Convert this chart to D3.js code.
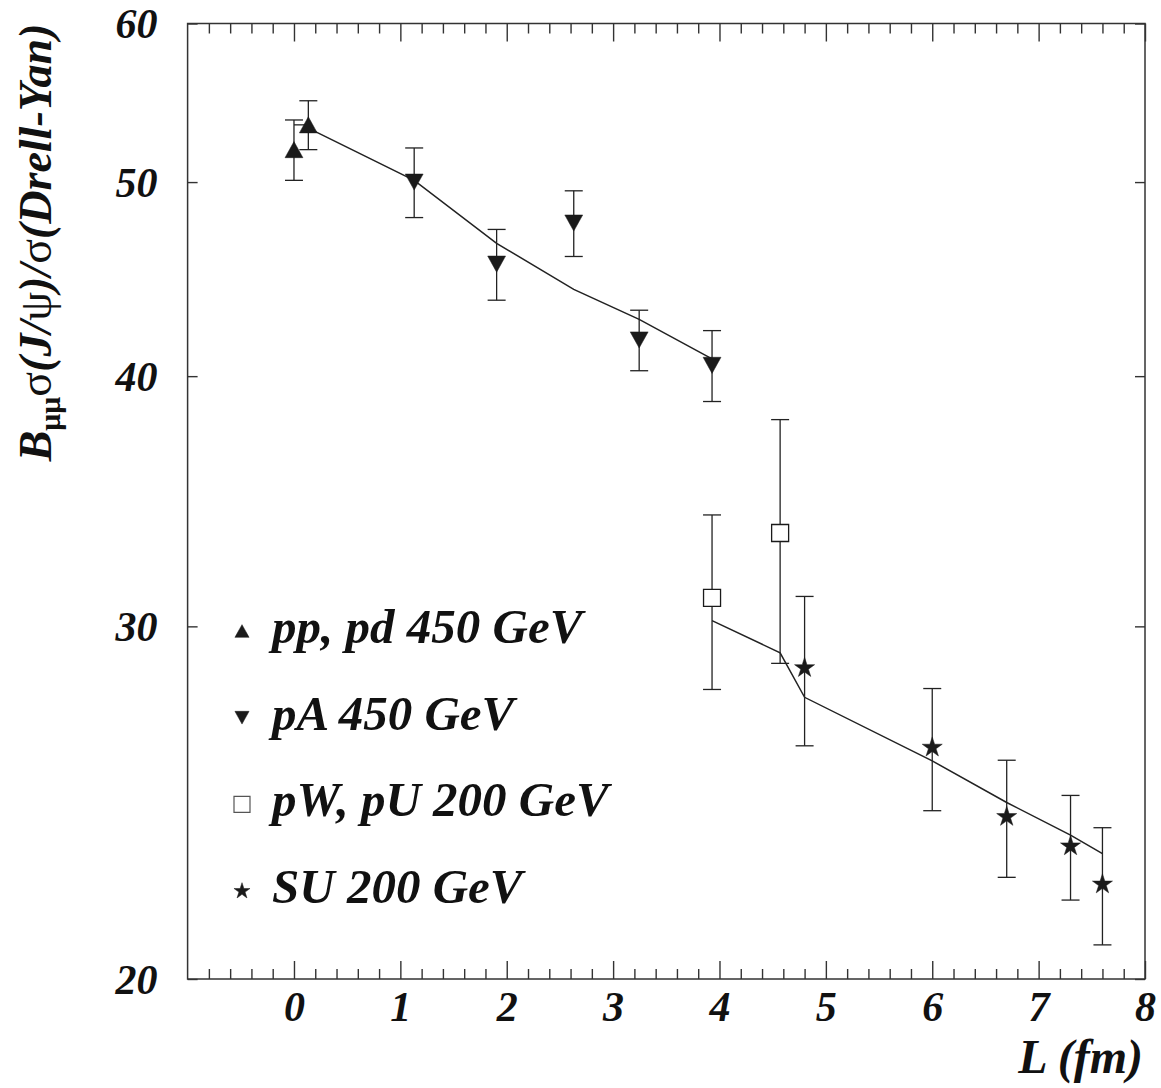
<!DOCTYPE html>
<html>
<head>
<meta charset="utf-8">
<script src="https://cdn.jsdelivr.net/npm/d3@7"></script>
<style>
  html, body { margin: 0; padding: 0; background: #fff; }
  svg { display: block; }
</style>
</head>
<body>
<svg id="chart" width="1161" height="1088"></svg>
<script>
// pp, pd 450 GeV
const ppL = [0.0, 0.135];
const ppV = [51.9, 53.4];
const ppE = [1.8, 1.5];
const ppXLow = [0, 0.135];

// pA 450 GeV
const pAL = [1.13, 1.905, 2.63, 3.245, 3.93];
const pAV = [50.0, 45.5, 47.7, 41.7, 40.5];
const pAE = [2.0, 1.85, 1.8, 1.45, 1.65];

// pW, pU 200 GeV
const pWL = [3.93, 4.57];
const pWV = [31.0, 33.4];
const pWE = [3.1, 4.65];

// SU 200 GeV
const suL = [4.80, 6.0, 6.70, 7.30, 7.60];
const suV = [28.6, 26.1, 24.1, 23.3, 22.3];
const suE = [2.45, 1.83, 1.62, 1.4, 1.5];

// nuclear absorption curves
const fitL1 = [0.135, 1.13, 1.905, 2.63, 3.245, 3.93];
const fitV1 = [53.2, 50.1, 46.6, 44.2, 42.7, 40.8];
const fitL2 = [3.93, 4.57, 4.80, 6.0, 6.70, 7.30, 7.60];
const fitV2 = [30.2, 29.1, 27.65, 25.7, 24.5, 23.6, 23.1];

const xTicks = [0, 1, 2, 3, 4, 5, 6, 7, 8];
const yTicks = [20, 30, 40, 50, 60];
const legendLabels = ['pp, pd 450 GeV', 'pA 450 GeV', 'pW, pU 200 GeV', 'SU 200 GeV'];

const serif = 'Liberation Serif';
const svg = d3.select('#chart');
const plotLeft = 187.6, plotRight = 1145, plotTop = 23.5, plotBottom = 979;

const x = d3.scaleLinear().domain([-1, 8]).range([plotLeft, plotRight]);
const y = d3.scaleLog().domain([20, 60]).range([plotBottom, plotTop]);

const ink = '#1a1a1a';
const axisInk = '#333';

const setFont = (sel, size) => sel
  .attr('font-family', serif)
  .attr('font-weight', 'bold')
  .attr('font-style', 'italic')
  .attr('font-size', size)
  .attr('fill', '#111');

const triUp = {
  draw(ctx, size) {
    const w = Math.sqrt(size), h = w * 0.9;
    ctx.moveTo(0, -h / 2);
    ctx.lineTo(w / 2, h / 2);
    ctx.lineTo(-w / 2, h / 2);
    ctx.closePath();
  }
};
const triDown = {
  draw(ctx, size) {
    const w = Math.sqrt(size), h = w * 0.9;
    ctx.moveTo(0, h / 2);
    ctx.lineTo(w / 2, -h / 2);
    ctx.lineTo(-w / 2, -h / 2);
    ctx.closePath();
  }
};

// frame
svg.append('rect')
  .attr('x', plotLeft).attr('y', plotTop)
  .attr('width', plotRight - plotLeft).attr('height', plotBottom - plotTop)
  .attr('fill', 'none')
  .attr('stroke', axisInk)
  .attr('stroke-width', 1.5);

const xMinor = d3.range(-5, 41).map(i => i / 5).filter(d => !Number.isInteger(d));

const styleAxis = g => {
  g.select('.domain').remove();
  g.attr('font-family', serif);
  g.selectAll('line').attr('stroke', axisInk).attr('stroke-width', 1.4);
};

svg.append('g')
  .attr('transform', `translate(0,${plotBottom})`)
  .call(d3.axisBottom(x).tickValues(xTicks).tickSize(-18).tickSizeOuter(0).tickPadding(12).tickFormat(d3.format('d')))
  .call(styleAxis)
  .selectAll('text').call(setFont, 42);

svg.append('g')
  .attr('transform', `translate(0,${plotBottom})`)
  .call(d3.axisBottom(x).tickValues(xMinor).tickSize(-10).tickSizeOuter(0).tickFormat(''))
  .call(styleAxis);

svg.append('g')
  .attr('transform', `translate(0,${plotTop})`)
  .call(d3.axisTop(x).tickValues(xTicks).tickSize(-18).tickSizeOuter(0).tickFormat(''))
  .call(styleAxis);

svg.append('g')
  .attr('transform', `translate(0,${plotTop})`)
  .call(d3.axisTop(x).tickValues(xMinor).tickSize(-10).tickSizeOuter(0).tickFormat(''))
  .call(styleAxis);

svg.append('g')
  .attr('transform', `translate(${plotLeft},0)`)
  .call(d3.axisLeft(y).tickValues(yTicks).tickSize(-10).tickSizeOuter(0).tickPadding(30).tickFormat(d3.format('d')))
  .call(styleAxis)
  .selectAll('text').call(setFont, 42).attr('dy', '0.34em');

svg.append('g')
  .attr('transform', `translate(${plotRight},0)`)
  .call(d3.axisRight(y).tickValues(yTicks).tickSize(-10).tickSizeOuter(0).tickFormat(''))
  .call(styleAxis);

// axis titles
svg.append('text')
  .attr('x', 1143).attr('y', 1073)
  .attr('text-anchor', 'end')
  .call(setFont, 48)
  .text('L (fm)');

const yTitle = svg.append('text')
  .attr('transform', `translate(51,${plotTop}) rotate(-90)`)
  .attr('text-anchor', 'end')
  .call(setFont, 46);
yTitle.append('tspan').text('B');
yTitle.append('tspan').attr('dy', 9).attr('font-size', 30).attr('font-style', 'normal').text('μμ');
yTitle.append('tspan').attr('dy', -9).attr('font-style', 'normal').attr('font-weight', 'normal').text('σ');
yTitle.append('tspan').text('(J/');
yTitle.append('tspan').attr('font-style', 'normal').attr('font-weight', 'normal').text('ψ');
yTitle.append('tspan').text(')/');
yTitle.append('tspan').attr('font-style', 'normal').attr('font-weight', 'normal').text('σ');
yTitle.append('tspan').text('(Drell-Yan)');

// model curves
const line = d3.line().x(d => x(d[0])).y(d => y(d[1]));
[[fitL1, fitV1], [fitL2, fitV2]].forEach(([ls, vs]) => {
  svg.append('path')
    .datum(ls.map((l, i) => [l, vs[i]]))
    .attr('d', line)
    .attr('fill', 'none')
    .attr('stroke', '#222')
    .attr('stroke-width', 1.5);
});

// error bars
const cap = 9;
const errBars = (ls, vs, es) => {
  const g = svg.append('g').attr('stroke', '#222').attr('stroke-width', 1.3);
  const pts = ls.map((l, i) => ({ l, v: vs[i], e: es[i] }));
  g.selectAll('.bar').data(pts).enter().append('line')
    .attr('x1', d => x(d.l)).attr('x2', d => x(d.l))
    .attr('y1', d => y(d.v - d.e)).attr('y2', d => y(d.v + d.e));
  g.selectAll('.capHi').data(pts).enter().append('line')
    .attr('x1', d => x(d.l) - cap).attr('x2', d => x(d.l) + cap)
    .attr('y1', d => y(d.v + d.e)).attr('y2', d => y(d.v + d.e));
  g.selectAll('.capLo').data(pts).enter().append('line')
    .attr('x1', d => x(d.l) - cap).attr('x2', d => x(d.l) + cap)
    .attr('y1', d => y(d.v - d.e)).attr('y2', d => y(d.v - d.e));
  return g;
};

const ppBars = errBars(ppL, ppV, ppE);
ppBars.selectAll('.xerr').data(ppL.map((l, i) => ({ l, v: ppV[i], lo: ppXLow[i] })).filter(d => d.lo > 0))
  .enter().append('line')
  .attr('x1', d => x(d.l - d.lo)).attr('x2', d => x(d.l))
  .attr('y1', d => y(d.v)).attr('y2', d => y(d.v));
errBars(pAL, pAV, pAE);
errBars(pWL, pWV, pWE);
errBars(suL, suV, suE);

// markers
const markers = (ls, vs, type, size, fill) => {
  svg.append('g').selectAll('path')
    .data(ls.map((l, i) => [l, vs[i]]))
    .enter().append('path')
    .attr('transform', d => `translate(${x(d[0])},${y(d[1])})`)
    .attr('d', d3.symbol().type(type).size(size))
    .attr('fill', fill)
    .attr('stroke', ink)
    .attr('stroke-width', fill === ink ? 0.5 : 1.3);
};
markers(ppL, ppV, triUp, 320, ink);
markers(pAL, pAV, triDown, 320, ink);
markers(pWL, pWV, d3.symbolSquare, 289, '#fff');
markers(suL, suV, d3.symbolStar, 125, ink);

// legend
const legendTypes = [
  { type: triUp, size: 200, fill: ink },
  { type: triDown, size: 200, fill: ink },
  { type: d3.symbolSquare, size: 256, fill: '#fff' },
  { type: d3.symbolStar, size: 80, fill: ink }
];
const legend = svg.append('g');
const rows = legend.selectAll('.row')
  .data(legendLabels)
  .enter().append('g')
  .attr('transform', (d, i) => `translate(0,${643 + i * 86.7})`);
rows.append('path')
  .attr('transform', 'translate(242,-12)')
  .attr('d', (d, i) => d3.symbol().type(legendTypes[i].type).size(legendTypes[i].size)())
  .attr('fill', (d, i) => legendTypes[i].fill)
  .attr('stroke', (d, i) => legendTypes[i].fill === ink ? ink : '#555')
  .attr('stroke-width', (d, i) => legendTypes[i].fill === ink ? 0.5 : 1.2);
rows.append('text')
  .attr('x', 272)
  .call(setFont, 49)
  .text(d => d);
</script>
</body>
</html>
